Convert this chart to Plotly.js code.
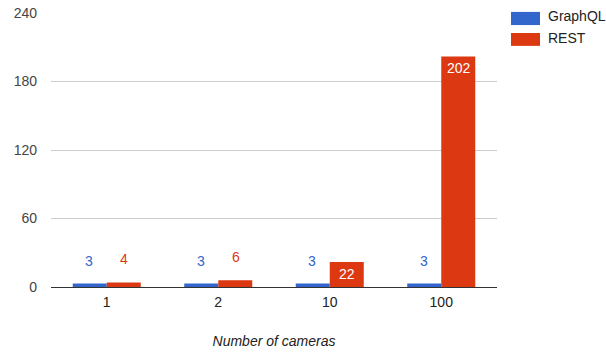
<!DOCTYPE html>
<html>
<head>
<meta charset="utf-8">
<script src="https://cdn.plot.ly/plotly-3.0.1.min.js"></script>
<style>
  html, body { margin: 0; padding: 0; background: #fff; }
  #chart { width: 606px; height: 353px; }
</style>
</head>
<body>
<div id="chart"></div>
<script>
// Response counts per number of cameras
const categories = ['1', '2', '10', '100'];
const seriesNames = ['GraphQL', 'REST'];
const graphqlValues = [3, 3, 3, 3];
const restValues = [4, 6, 22, 202];
const yTicks = [0, 60, 120, 180, 240];

const BLUE = '#3366cc';
const RED = '#dc3912';
const FONT = 'Liberation Sans, Arial, sans-serif';
const colors = [BLUE, RED];

const traces = [
  { type: 'bar', name: seriesNames[0], x: categories, y: graphqlValues,
    marker: { color: BLUE }, hoverinfo: 'none' },
  { type: 'bar', name: seriesNames[1], x: categories, y: restValues,
    marker: { color: RED }, hoverinfo: 'none' }
];

// Value labels: above short bars in the series colour, inside tall bars in white
const annotations = [];
function addLabels(values, offset, color) {
  values.forEach((v, i) => {
    const inside = v >= 15;
    annotations.push({
      x: i + offset, y: v, xref: 'x', yref: 'y',
      text: String(v), showarrow: false,
      yanchor: inside ? 'top' : 'bottom',
      yshift: inside ? -2 : 13,
      font: { family: FONT, size: 14, color: inside ? '#ffffff' : color }
    });
  });
}
addLabels(graphqlValues, -0.155, BLUE);
addLabels(restValues, 0.155, RED);

// Legend on the right: wide colour swatches with the series names
const shapes = [];
const legendRows = [{ y0: 0.956, y1: 1.004, ty: 0.988 }, { y0: 0.880, y1: 0.927, ty: 0.907 }];
seriesNames.forEach((name, k) => {
  const row = legendRows[k];
  shapes.push({
    type: 'rect', xref: 'paper', yref: 'paper',
    x0: 1.0314, x1: 1.0964, y0: row.y0, y1: row.y1,
    fillcolor: colors[k], line: { width: 0 }
  });
  annotations.push({
    xref: 'paper', yref: 'paper', x: 1.110, y: row.ty,
    xanchor: 'left', yanchor: 'middle', showarrow: false,
    text: name, font: { family: FONT, size: 14, color: '#222222' }
  });
});

const layout = {
  width: 606, height: 353,
  margin: { l: 51, r: 109, t: 13, b: 66 },
  paper_bgcolor: '#ffffff', plot_bgcolor: '#ffffff',
  font: { family: FONT, size: 14, color: '#444444' },
  barmode: 'group',
  bargap: 0.39,
  bargroupgap: 0,
  showlegend: false,
  xaxis: {
    type: 'category',
    showgrid: false, zeroline: false, showline: false,
    ticks: '', ticklabelstandoff: 5,
    tickfont: { family: FONT, size: 14, color: '#222222' },
    title: { text: 'Number of cameras', standoff: 27,
      font: { family: FONT, size: 14, color: '#222222', style: 'italic' } }
  },
  yaxis: {
    range: [0, 240], tickvals: yTicks,
    showgrid: true, gridcolor: '#cccccc', gridwidth: 1,
    zeroline: true, zerolinecolor: '#333333', zerolinewidth: 1,
    showline: false, ticks: '', ticklabelstandoff: 13,
    tickfont: { family: FONT, size: 14, color: '#444444' }
  },
  shapes: shapes,
  annotations: annotations
};

Plotly.newPlot('chart', traces, layout, { displayModeBar: false, staticPlot: true });
</script>
</body>
</html>
